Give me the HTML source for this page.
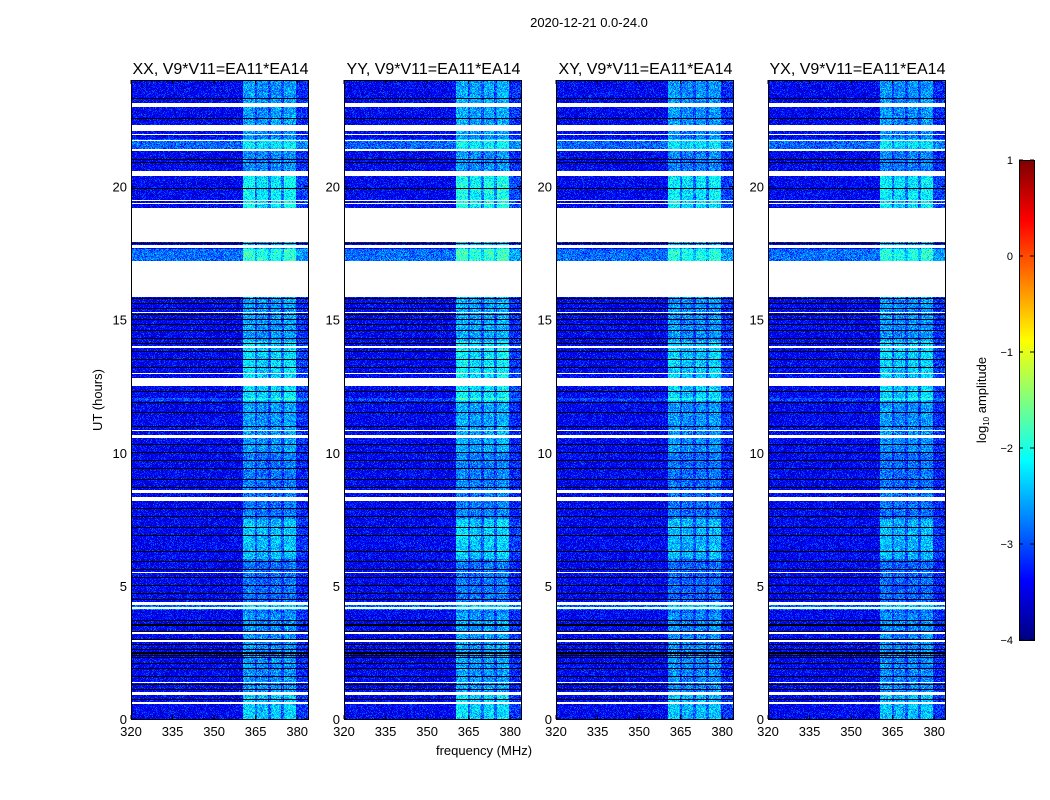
<!DOCTYPE html>
<html><head><meta charset="utf-8">
<style>
html,body{margin:0;padding:0;background:#fff;}
#root{position:relative;width:1050px;height:800px;overflow:hidden;font-family:"Liberation Sans","DejaVu Sans",sans-serif;color:#000;}
canvas{position:absolute;image-rendering:pixelated;}
svg{position:absolute;left:0;top:0;}
</style></head>
<body>
<div id="root">
<canvas id="c0"></canvas>
<canvas id="c1"></canvas>
<canvas id="c2"></canvas>
<canvas id="c3"></canvas>
<canvas id="cb"></canvas>
<svg id="ax" width="1050" height="800"></svg>
</div>
<script>
// ---- data ----
const panelTitles = ["XX, V9*V11=EA11*EA14","YY, V9*V11=EA11*EA14","XY, V9*V11=EA11*EA14","YX, V9*V11=EA11*EA14"];
const panelGain = [1.0, 1.1, 0.95, 0.95];
const xTicks = [320,335,350,365,380];
const yTicks = [0,5,10,15,20];
const cbTicks = [-4,-3,-2,-1,0,1];
const whiteIntervals = [[22.97,23.12],[22.1,22.3],[21.93,21.98],[21.71,21.76],[21.35,21.4],[20.4,20.6],[19.45,19.5],[19.33,19.38],[17.9,19.18],[17.68,17.8],[15.84,17.2],[12.5,12.8],[12.95,13.0],[10.55,10.65],[10.8,10.85],[8.5,8.6],[8.2,8.35],[4.3,4.4],[4.12,4.22],[3.2,3.25],[2.9,2.95],[1.35,1.4],[0.9,1.0],[0.55,0.62],[5.5,5.53],[13.95,14.0],[15.25,15.3]];
const blackRows = [23.3,22.55,21.0,20.9,19.93,19.1,17.85,17.1,15.8,15.6,15.4,15.2,15.0,14.8,14.6,14.3,14.1,13.8,13.5,13.2,12.3,11.9,11.5,11.0,10.3,10.0,9.7,9.4,9.0,8.7,7.9,7.6,7.2,6.9,6.3,5.9,5.6,5.3,5.0,4.7,4.5,3.7,3.55,3.5,3.3,3.0,2.8,2.6,2.5,2.45,2.4,2.3,2.1,1.9,1.6,1.3,1.1,0.75];
const bandStart = [360.4,365.4,370.5,375.2];
const bandEnd = [364.7,369.4,374.1,379.5];
const bandBoost = [0.95,0.85,0.9,0.95];
const segStart = [0,1,4,6,7.5,10,12,14.2,16,19.2,20.4,22];
const segEnd = [1,4,6,7.5,10,12,14.2,16,19.2,20.4,22,24];
const segGain = [1.1,0.8,0.6,1.05,0.65,0.85,1.2,0.85,1.0,1.35,0.75,0.85];
const tintStart = [21.4,17.2,4.1,11.95];
const tintEnd = [21.8,17.65,4.3,12.05];
const tintAdd = [0.5,0.55,0.5,0.35];
const baseLevel = -3.4;

// ---- layout ----
const panelX = [131,344,556,768], panelW = 177, plotTop = 80, plotBot = 719;
const fMin = 320, pxPerMHz = 2.77;
const xScale = (f,i)=> panelX[i] + (f-fMin)*pxPerMHz;
const yScale = h => plotBot - h*(plotBot-plotTop)/24;
const cbX=1019, cbW=15, cbTop=160, cbBot=640;
const cbScale = v => cbBot - (v+4)/5*(cbBot-cbTop);

function jet(t){
  t=Math.max(0,Math.min(1,t));
  const c=x=>Math.max(0,Math.min(1,x));
  return [c(1.5-Math.abs(4*t-3))*255, c(1.5-Math.abs(4*t-2))*255, c(1.5-Math.abs(4*t-1))*255];
}
function hash(a,b,c){ let h=(a*374761393+b*668265263+c*2147483647)|0; h=(h^(h>>>13))*1274126177|0; h=h^(h>>>16); return ((h>>>0)%10000)/10000; }

function drawPanel(i){
  const cv=document.getElementById('c'+i);
  const H=plotBot-plotTop;
  cv.width=panelW; cv.height=H;
  cv.style.left=panelX[i]+'px'; cv.style.top=plotTop+'px';
  const ctx=cv.getContext('2d'); const img=ctx.createImageData(panelW,H);
  const rowH=24/H;
  for(let py=0;py<H;py++){
    const h=24*(H-py-0.5)/H;
    let white=whiteIntervals.some(w=>h>=w[0]&&h<=w[1]);
    let black=!white && blackRows.some(b=>Math.abs(h-b)<rowH*0.5);
    let g=0.8; for(let k=0;k<segStart.length;k++) if(h>=segStart[k]&&h<segEnd[k]) g=segGain[k];
    let tint=0; for(let k=0;k<tintStart.length;k++) if(h>=tintStart[k]&&h<=tintEnd[k]) tint=tintAdd[k];
    for(let px=0;px<panelW;px++){
      const o=(py*panelW+px)*4;
      if(white){img.data[o]=255;img.data[o+1]=255;img.data[o+2]=255;img.data[o+3]=255;continue;}
      if(black){img.data[o]=0;img.data[o+1]=0;img.data[o+2]=0;img.data[o+3]=255;continue;}
      const f=fMin+(px+0.5)/pxPerMHz;
      let boost=0;
      for(let k=0;k<bandStart.length;k++){ if(f>=bandStart[k]&&f<=bandEnd[k]) boost=bandBoost[k]; }
      if(!boost && f>=bandStart[0] && f<=bandEnd[bandEnd.length-1]) boost=0.45;
      if(f>bandEnd[bandEnd.length-1]) boost=0.25;
      const n=(hash(px,py,i)+hash(px+7,py+3,i+11)-1)*0.6;
      const v=baseLevel+tint+boost*g*panelGain[i]+n;
      const c=jet((v+4)/5);
      img.data[o]=c[0];img.data[o+1]=c[1];img.data[o+2]=c[2];img.data[o+3]=255;
    }
  }
  ctx.putImageData(img,0,0);
}
for(let i=0;i<4;i++) drawPanel(i);

(function(){
  const cv=document.getElementById('cb'); const H=cbBot-cbTop;
  cv.width=cbW; cv.height=H; cv.style.left=cbX+'px'; cv.style.top=cbTop+'px';
  const ctx=cv.getContext('2d');
  for(let y=0;y<H;y++){const c=jet(1-y/H); ctx.fillStyle=`rgb(${c[0]|0},${c[1]|0},${c[2]|0})`; ctx.fillRect(0,y,cbW,1);}
})();

const svg=document.getElementById('ax'); const NS='http://www.w3.org/2000/svg';
function el(tag,attrs,text){const e=document.createElementNS(NS,tag);for(const k in attrs)e.setAttribute(k,attrs[k]);if(text!==undefined)e.textContent=text;svg.appendChild(e);return e;}
let t=el('text',{x:589,y:27,'font-size':13,'text-anchor':'middle'},'2020-12-21 0.0-24.0');


for(let i=0;i<4;i++){
  const x0=panelX[i];
  let r=el('rect',{x:x0+0.5,y:plotTop+0.5,width:panelW,height:plotBot-plotTop,fill:'none',stroke:'#000','stroke-width':1});
  
  
  let tt=el('text',{x:x0+panelW/2+1,y:74,'font-size':16,'text-anchor':'middle'},panelTitles[i]);
  
  
  xTicks.forEach(f=>{
    const x=xScale(f,i);
    el('line',{x1:x,x2:x,y1:plotBot,y2:plotBot-4,stroke:'#000'});
    el('line',{x1:x,x2:x,y1:plotTop,y2:plotTop+4,stroke:'#000'});
    let l=el('text',{x:x,y:plotBot+17,'font-size':13,'text-anchor':'middle'},String(f));
    
    
  });
  yTicks.forEach(h=>{
    const y=yScale(h);
    el('line',{x1:x0,x2:x0+4,y1:y,y2:y,stroke:'#000'});
    el('line',{x1:x0+panelW,x2:x0+panelW-4,y1:y,y2:y,stroke:'#000'});
    let l=el('text',{x:x0-4,y:y+5,'font-size':13,'text-anchor':'end'},String(h));
    
    
  });
}
let xl=el('text',{x:484,y:755,'font-size':13,'text-anchor':'middle'},'frequency (MHz)');


let yl=el('text',{x:0,y:0,'font-size':13,'text-anchor':'middle',transform:'translate(102,400) rotate(-90)'},'UT (hours)');


let cf=el('rect',{x:cbX+0.5,y:cbTop+0.5,width:cbW,height:cbBot-cbTop,fill:'none',stroke:'#000'});


cbTicks.forEach(v=>{
  const y=cbScale(v);
  el('line',{x1:cbX,x2:cbX+4,y1:y,y2:y,stroke:'#000'});
  el('line',{x1:cbX+cbW,x2:cbX+cbW-4,y1:y,y2:y,stroke:'#000'});
  let l=el('text',{x:cbX-6,y:y+4,'font-size':11,'text-anchor':'end'},(v<0?'\u2212':'')+Math.abs(v));
  
  
});
let cl=el('text',{x:0,y:0,'font-size':13,'text-anchor':'middle',transform:'translate(986,400) rotate(-90)'});


const s1=document.createElementNS(NS,'tspan'); s1.textContent='log'; cl.appendChild(s1);
const s2=document.createElementNS(NS,'tspan'); s2.setAttribute('font-size','8'); s2.setAttribute('dy','3'); s2.textContent='10'; cl.appendChild(s2);
const s3=document.createElementNS(NS,'tspan'); s3.setAttribute('dy','-3'); s3.textContent=' amplitude'; cl.appendChild(s3);
</script>
</body></html>
